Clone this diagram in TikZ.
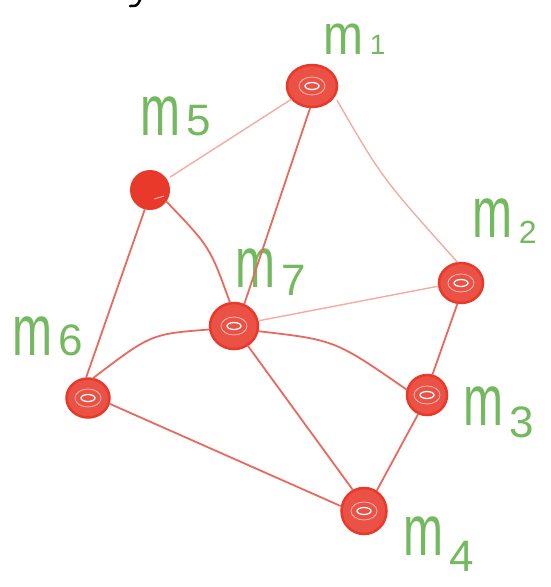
\documentclass[tikz,border=0pt]{standalone}
\usepackage{fontspec}
\setmainfont{Liberation Sans}
\usetikzlibrary{shapes.geometric}
\definecolor{nodered}{HTML}{E8392A}
\definecolor{edgered}{HTML}{E86A5E}
\definecolor{paleedge}{HTML}{F3ABA2}
\definecolor{labgreen}{HTML}{74B960}
\newcommand{\hm}{\scalebox{1.2}[1.8]{m}}
\newcommand{\dg}[1]{{\fontsize{44}{44}\selectfont #1}}
\tikzset{
  hub/.style={ellipse, draw=nodered, line width=2.5pt, fill=nodered!88, inner sep=0pt,
    path picture={
      \draw[white, line width=1.3pt, shift={(path picture bounding box.center)}, rotate=25] (0,0) ellipse (7pt and 3.5pt);
      \draw[white!65!nodered, line width=0.8pt, shift={(path picture bounding box.center)}, rotate=15] (0,0) ellipse (13pt and 9pt);
    }},
  solidhub/.style={circle, draw=nodered, line width=2pt, fill=nodered, inner sep=0pt, minimum size=38pt,
    path picture={
      \draw[white!60!nodered, line width=1pt] ([shift={(4pt,-9pt)}]path picture bounding box.center) -- ++(10pt,3pt);
    }},
  edge/.style={draw=edgered, line width=1.8pt, line cap=round},
  pale/.style={draw=paleedge, line width=1.4pt, line cap=round},
  lab/.style={text=labgreen, font=\fontsize{40}{40}\selectfont, anchor=base west, inner sep=0pt},
}
\begin{document}
\begin{tikzpicture}[x=1pt, y=-1pt]
\useasboundingbox (0,0) rectangle (550,587);
% small black mark at top
\draw[black, line width=2.5pt, line cap=round] (130,6) .. controls (137,6) .. (140,0);
% nodes
\node[hub, minimum width=50pt, minimum height=42pt] (m1) at (312,86) {};
\node[solidhub] (m5) at (150,190) {};
\node[hub, minimum width=44pt, minimum height=40pt] (m2) at (461,283) {};
\node[hub, minimum width=48pt, minimum height=46pt] (m7) at (234,326) {};
\node[hub, minimum width=43pt, minimum height=39pt] (m6) at (88,398) {};
\node[hub, minimum width=40pt, minimum height=40pt] (m3) at (427,395) {};
\node[hub, minimum width=45pt, minimum height=46pt] (m4) at (364,511) {};
% labels
\node[lab] (l1) at (323,54) {\scalebox{1.2}[1.42]{m}\,{\fontsize{28}{28}\selectfont 1}};
\node[lab] (l5) at (140,135) {\hm\,\dg{5}};
\node[lab] (l2) at (472,237) {\hm\,\raisebox{-6pt}{\fontsize{32}{32}\selectfont 2}};
\node[lab] (l7) at (235,287) {\hm\,\raisebox{-8pt}{\dg{7}}};
\node[lab] (l6) at (12,355) {\hm\,\dg{6}};
\node[lab] (l3) at (463,425) {\hm\,\raisebox{-12pt}{\dg{3}}};
\node[lab] (l4) at (403,555) {\hm\,\raisebox{-16pt}{\dg{4}}};
% edges
\draw[pale, shorten <=4pt] (m5) -- (m1);
\draw[edge] (m1.265) -- (m7.65);
\draw[pale, shorten <=4pt] (m1.-25) .. controls (382,178) .. (m2.100);
\draw[edge] (m5.-35) .. controls (210,247) .. (m7.100);
\draw[edge] (m5.255) -- (m6.95);
\draw[edge] (m6.75) .. controls (151,334) .. (m7.188);
\draw[pale] (m7.12) -- (m2.188);
\draw[edge] (m7.-12) .. controls (335,340) .. (m3.165);
\draw[edge] (m7.-55) -- (m4.118);
\draw[edge] (m2.-100) -- (m3.75);
\draw[edge] (m3.-115) -- (m4.58);
\draw[edge] (m6.-15) -- (m4.168);
\end{tikzpicture}
\end{document}
